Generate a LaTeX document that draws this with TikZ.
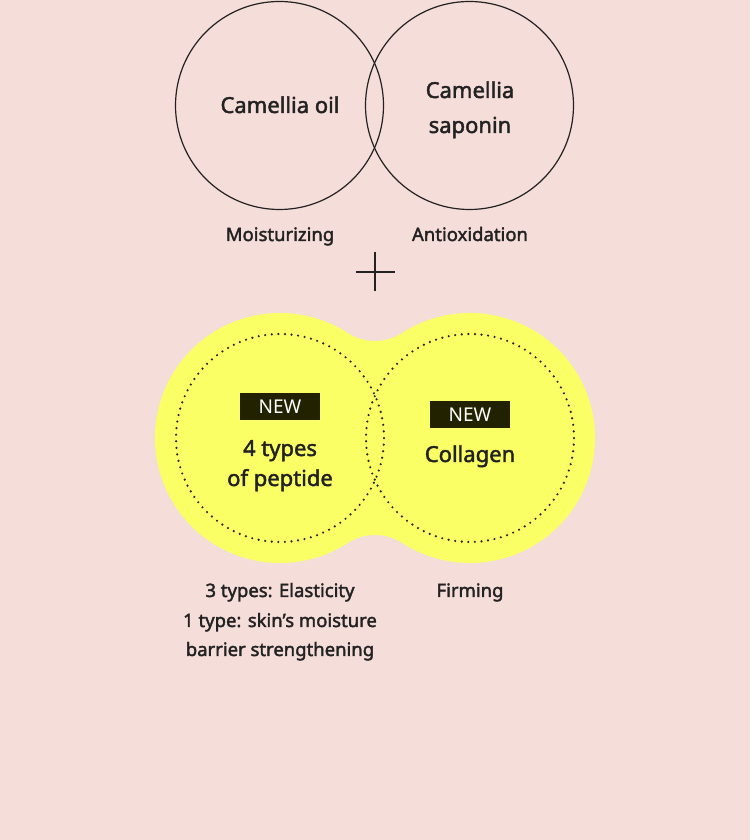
\documentclass[tikz,border=0pt]{standalone}
\usepackage{fontspec}
\usetikzlibrary{calc}
\setmainfont{Noto Sans}
\newfontfamily\medfont{Noto Sans}[FakeBold=2]
\definecolor{bgpink}{RGB}{245,221,217}
\definecolor{blobyellow}{RGB}{250,255,102}
\definecolor{inkdark}{RGB}{34,34,34}
\definecolor{newbox}{RGB}{34,34,0}
\begin{document}
\begin{tikzpicture}[x=1pt,y=1pt,
  ring/.style={draw=inkdark,line width=1.2pt},
  dotring/.style={draw=inkdark,line width=2.4pt,line cap=round,dash pattern=on 0pt off 6.6pt},
  mainlbl/.style={text=inkdark,font=\medfont\fontsize{22}{26}\selectfont,anchor=base,inner sep=0pt},
  sublbl/.style={text=inkdark,font=\medfont\fontsize{18.5}{30}\selectfont,anchor=base,inner sep=0pt},
  newtag/.style={fill=newbox,text=white,minimum width=80pt,minimum height=27pt,inner sep=0pt,font=\fontsize{19}{20}\selectfont}]
\fill[bgpink] (0,0) rectangle (750,840);
\useasboundingbox (0,0) rectangle (750,840);
% top circles
\node[ring,circle,minimum size=208pt,inner sep=0pt] (oil) at (279.5,734.5) {};
\node[ring,circle,minimum size=208pt,inner sep=0pt] (sap) at (469.5,734.5) {};
\node[mainlbl] (oiltxt) at (280,727) {Camellia oil};
\node[mainlbl] (saptxt1) at (470,742) {Camellia};
\node[mainlbl] (saptxt2) at (470,707) {saponin};
\node[sublbl] (moist) at (280,599) {Moisturizing};
\node[sublbl] (anti) at (470,599) {Antioxidation};
% plus
\coordinate (plusc) at (375,568);
\draw[inkdark,line width=1.2pt] ($(plusc)+(-19.5,0)$) -- ($(plusc)+(19.5,0)$);
\draw[inkdark,line width=1.2pt] ($(plusc)+(0,-19.5)$) -- ($(plusc)+(0,19.5)$);
% yellow blob
\fill[blobyellow] (280,402) ++(57.12:125)
  arc[start angle=237.12,end angle=302.88,radius=50]
  arc[start angle=122.88,end angle=-122.88,radius=125]
  arc[start angle=57.12,end angle=122.88,radius=50]
  arc[start angle=-57.12,end angle=-302.88,radius=125] -- cycle;
\node[dotring,circle,minimum size=208pt,inner sep=0pt] (pep) at (280,402) {};
\node[dotring,circle,minimum size=208pt,inner sep=0pt] (col) at (470,402) {};
\node[newtag] (new1) at (280,433) {NEW};
\node[newtag] (new2) at (470,425) {NEW};
\node[mainlbl] (peptxt1) at (280,384) {4 types};
\node[mainlbl] (peptxt2) at (280,354) {of peptide};
\node[mainlbl] (coltxt) at (470,378) {Collagen};
\node[sublbl] (peplbl1) at (280,243) {3 types: Elasticity};
\node[sublbl] (peplbl2) at (280,213) {1 type: skin’s moisture};
\node[sublbl] (peplbl3) at (280,184) {barrier strengthening};
\node[sublbl] (firm) at (470,243) {Firming};
\end{tikzpicture}
\end{document}
